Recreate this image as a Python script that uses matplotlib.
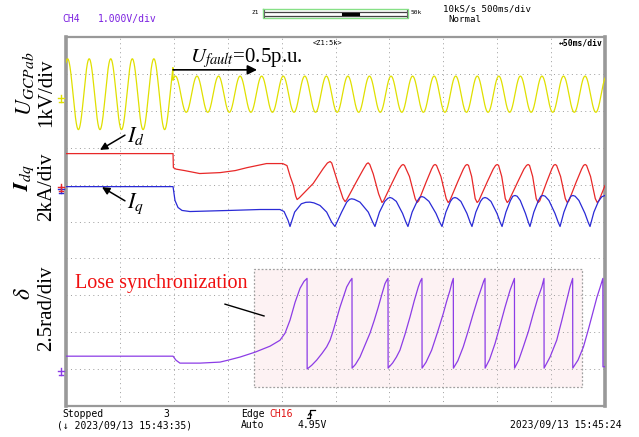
import numpy as np
import matplotlib
matplotlib.use("Agg")
import matplotlib.pyplot as plt
import matplotlib.lines as mlines
from matplotlib.patches import Rectangle

plt.rcParams['mathtext.fontset'] = 'stix'
plt.rcParams['font.family'] = ['Liberation Serif', 'DejaVu Serif']

# ---- acquisition: 10 div x 50 ms/div, 10 kS/s ----
t_span_ms = 500
sample_ms = 0.1
fault_ms = 99.3

# ---- grid voltage U_GCPab (kV), 50 Hz ----
v_freq_hz = 50
v_peak_time_ms = 1.5
v_amp_pre_kV = 0.96
v_amp_post_kV = 0.49
v_dc_kV = 0.10

# ---- d-axis current I_d (kA) ----
id_t = [0, 99.3, 99.6, 102, 110, 124, 143, 157, 168, 186, 201, 205, 208, 211, 213, 214.4,
        216.5, 229.3, 238.6, 242.5, 245.0, 246.5, 252.4, 257, 258.9,
        260.5, 270, 276, 278.8, 280.3, 281.8, 285, 290, 293.1,
        294.6, 302.9, 308.8, 311.2, 312.7, 314.0, 318.6, 323.9, 325.7,
        327.2, 334.1, 339.1, 340.9, 342.4, 343.7, 347.8, 352.7, 354.5,
        356.0, 363.3, 368.6, 370.6, 372.1, 373.4, 376.3, 379.6, 381.4,
        382.9, 390.7, 396.3, 398.5, 400.0, 401.3, 404.2, 407.5, 409.3,
        410.8, 419.0, 424.8, 427.2, 428.7, 430.0, 432.9, 436.2, 438.0,
        439.5, 445.9, 450.6, 452.3, 453.8, 455.1, 458.8, 463.2, 465.0,
        466.5, 473.3, 478.3, 480.1, 481.6, 482.9, 486.6, 491.0, 492.8,
        494.3, 500]
id_kA = [1.84, 1.84, 1.08, 1.00, 0.92, 0.76, 0.81, 0.92, 1.08, 1.30, 1.30, 1.19, 0.60, 0.11, -0.45, -0.65,
         -0.55, 0.22, 1.03, 1.33, 1.41, 1.33, 0.22, -0.59, -0.76,
         -0.65, 0.38, 1.01, 1.28, 1.34, 1.25, 0.74, -0.34, -0.81,
         -0.72, 0.30, 1.00, 1.20, 1.25, 1.20, 0.60, -0.60, -0.81,
         -0.72, 0.30, 1.00, 1.20, 1.25, 1.20, 0.60, -0.60, -0.81,
         -0.72, 0.30, 1.00, 1.20, 1.25, 1.20, 0.60, -0.60, -0.81,
         -0.72, 0.30, 1.00, 1.20, 1.25, 1.20, 0.60, -0.60, -0.81,
         -0.72, 0.30, 1.00, 1.20, 1.25, 1.20, 0.60, -0.60, -0.81,
         -0.72, 0.30, 1.00, 1.20, 1.25, 1.20, 0.60, -0.60, -0.81,
         -0.72, 0.30, 1.00, 1.20, 1.25, 1.20, 0.60, -0.60, -0.81,
         -0.72, 0.11]

# ---- q-axis current I_q (kA) ----
iq_t = [0, 99.3, 101.1, 103.9, 107.6, 115, 152, 180, 198.5, 202.3, 206, 207.8,
        212.1, 218.3, 222.5, 226.3, 230.0, 235.6, 241.8, 246.4, 249.5,
        255.7, 260.4, 263.0, 265.0, 267.5, 272.7, 280.4, 284.5, 286.6,
        290.8, 295.7, 298.6, 300.6, 302.6, 306.4, 312.2, 315.5, 317.2,
        321.1, 325.7, 328.2, 330.2, 332.2, 336.7, 343.2, 346.9, 348.8,
        352.4, 356.6, 358.8, 360.8, 362.8, 366.3, 371.9, 375.0, 376.6,
        380.2, 384.5, 386.7, 388.7, 390.7, 394.2, 399.8, 402.9, 404.5,
        408.1, 412.3, 414.5, 416.5, 418.5, 421.4, 426.2, 429.0, 430.4,
        434.0, 438.3, 440.5, 442.5, 444.5, 448.0, 453.6, 456.7, 458.3,
        461.9, 466.1, 468.3, 470.3, 472.3, 475.8, 481.4, 484.5, 486.1,
        489.7, 493.9, 497.0, 500]
iq_kA = [0.05, 0.05, -0.70, -1.08, -1.24, -1.30, -1.24, -1.19, -1.19, -1.30, -1.78, -2.11,
         -1.33, -0.88, -0.80, -0.79, -0.83, -0.97, -1.33, -1.87, -2.11,
         -1.33, -0.79, -0.64, -0.61, -0.64, -0.79, -1.33, -1.87, -2.11,
         -1.33, -0.75, -0.58, -0.54, -0.58, -0.75, -1.40, -1.90, -2.11,
         -1.33, -0.75, -0.53, -0.49, -0.53, -0.75, -1.40, -1.90, -2.11,
         -1.33, -0.75, -0.58, -0.54, -0.58, -0.75, -1.40, -1.90, -2.11,
         -1.33, -0.75, -0.58, -0.54, -0.58, -0.75, -1.40, -1.90, -2.11,
         -1.33, -0.70, -0.47, -0.43, -0.47, -0.70, -1.40, -1.90, -2.11,
         -1.33, -0.70, -0.47, -0.43, -0.47, -0.70, -1.40, -1.90, -2.11,
         -1.33, -0.70, -0.47, -0.43, -0.47, -0.70, -1.40, -1.90, -2.11,
         -1.33, -0.75, -0.50, -0.43]

# ---- power angle delta (rad) ----
delta_t = [0, 99.3, 102, 105.7, 124.3, 142.9, 150.3, 161.4, 175.3, 189.3, 198.5, 203.2, 207.8, 212.5, 217.1, 220.8, 223.6,
           223.7, 228.0, 232.5, 237.5, 241.8, 245.0, 248.0, 254.2, 260.4, 263.5, 265.3,
           265.4, 268.5, 272.7, 277.0, 282.0, 286.0, 289.7, 293.0, 295.9, 297.5, 298.7,
           298.8, 303.0, 306.5, 309.8, 314.5, 319.1, 323.0, 326.8, 328.8, 330.2,
           330.3, 334.0, 339.2, 344.5, 350.0, 353.0, 356.2, 358.0, 359.3,
           359.4, 363.5, 368.5, 373.0, 377.8, 382.0, 385.6, 387.5, 388.7,
           388.8, 393.0, 398.0, 402.5, 407.3, 412.0, 414.8, 416.0,
           416.1, 420.0, 424.2, 429.0, 433.5, 437.5, 441.3, 443.4,
           443.5, 449.0, 455.2, 460.0, 464.5, 467.5, 470.0,
           470.1, 475.0, 480.0, 484.5, 489.3, 492.5, 495.5, 498.0,
           498.1, 500]
delta_rad = [1.01, 1.01, 0.74, 0.54, 0.54, 0.61, 0.74, 0.95, 1.28, 1.69, 2.09, 2.57, 3.45, 4.66, 5.61, 6.08, 6.28,
             0.14, 0.40, 0.74, 1.20, 1.64, 2.10, 2.77, 4.34, 5.70, 6.10, 6.28,
             0.20, 0.45, 0.95, 1.70, 2.57, 3.45, 4.34, 5.20, 5.92, 6.15, 6.28,
             0.20, 0.55, 0.95, 1.42, 2.50, 3.67, 4.75, 5.70, 6.10, 6.28,
             0.20, 0.60, 1.42, 2.60, 3.90, 4.70, 5.47, 6.00, 6.28,
             0.20, 0.70, 1.64, 2.70, 3.90, 4.90, 5.68, 6.10, 6.28,
             0.20, 0.80, 1.87, 3.05, 4.34, 5.50, 6.05, 6.28,
             0.20, 0.75, 1.64, 2.70, 3.90, 4.90, 5.68, 6.28,
             0.20, 0.95, 2.09, 3.45, 4.80, 5.70, 6.28,
             0.20, 0.75, 1.64, 2.80, 4.12, 5.00, 5.68, 6.28,
             0.29, 0.30]

# channel ground position (div) and sensitivity (unit/div)
V_POS, V_SCALE = 8.35, 1.0
I_POS, I_SCALE = 5.92, 2.0
D_POS, D_SCALE = 0.946, 2.5

C_V = '#e0e000'
C_ID = '#e82828'
C_IQ = '#2a2ad6'
C_D = '#8c3ce6'
C_GRID = '#9c9c9c'
C_FRAME = '#999999'
MONO = 'DejaVu Sans Mono'

W, H = 639, 437
fig = plt.figure(figsize=(W / 100, H / 100), dpi=100)
fig.patch.set_facecolor('white')


def fx(x):
    return x / W


def fy(y):
    return 1 - y / H


def fig_line(xs, ys, **kw):
    fig.add_artist(mlines.Line2D([fx(x) for x in xs], [fy(y) for y in ys],
                                 transform=fig.transFigure, **kw))


ax = fig.add_axes([fx(66), fy(406), (605 - 66) / W, (406 - 37) / H])
ax.set_xlim(0, t_span_ms)
ax.set_ylim(0, 10)
ax.set_xticks([])
ax.set_yticks([])
for side in ['left', 'right']:
    ax.spines[side].set_linewidth(2.6)
    ax.spines[side].set_color(C_FRAME)
for side in ['top', 'bottom']:
    ax.spines[side].set_linewidth(1.6)
    ax.spines[side].set_color(C_FRAME)

# dotted division grid
for k in range(1, 10):
    ax.axvline(k * 50, color=C_GRID, lw=0.7, ls=(0, (1, 3.6)), zorder=1.5)
    ax.axhline(k, color=C_GRID, lw=0.7, ls=(0, (1, 3.6)), zorder=1.5)

# highlighted loss-of-synchronism region
ax.add_patch(Rectangle((174.4, 0.51), 478.8 - 174.4, 3.70 - 0.51,
                       facecolor='#fdf2f3', edgecolor='#a0a0a0', lw=0.9,
                       ls=(0, (1.5, 1.5)), zorder=1))

# traces
t = np.arange(0, t_span_ms + sample_ms / 2, sample_ms)
amp = np.where(t < fault_ms, v_amp_pre_kV, v_amp_post_kV)
u = v_dc_kV + amp * np.cos(2 * np.pi * v_freq_hz * (t - v_peak_time_ms) / 1000)
ax.plot(t, V_POS + u / V_SCALE, color=C_V, lw=0.9, zorder=3)
ax.plot(id_t, I_POS + np.array(id_kA) / I_SCALE, color=C_ID, lw=0.9, zorder=3)
ax.plot(iq_t, I_POS + np.array(iq_kA) / I_SCALE, color=C_IQ, lw=0.9, zorder=3)
ax.plot(delta_t, D_POS + np.array(delta_rad) / D_SCALE, color=C_D, lw=0.9, zorder=3)


# ground markers on the left edge
def ground_marker(pos, color, dy=0):
    y = 406 - pos * 36.9 + dy
    fig_line([58, 64], [y, y], color=color, lw=1.0)
    fig_line([61, 61], [y - 3, y + 4], color=color, lw=1.0)
    fig_line([59, 63], [y + 4, y + 4], color=color, lw=1.0)


ground_marker(V_POS, C_V)
ground_marker(I_POS, C_IQ, 1)
ground_marker(I_POS, C_ID, -1)
ground_marker(D_POS, C_D)

# annotations
ax.annotate('', xy=(177.2, 9.11), xytext=(99.3, 9.11),
            arrowprops=dict(arrowstyle='-|>', color='black', lw=1.2,
                            mutation_scale=14, shrinkA=0, shrinkB=0), zorder=5)
ax.text(115, 9.32, r'$U_{fault}$=0.5p.u.', fontsize=15, color='black',
        va='baseline', ha='left', zorder=5)

ax.annotate('', xy=(31.5, 6.94), xytext=(54.7, 7.34),
            arrowprops=dict(arrowstyle='-|>', color='black', lw=1.1,
                            mutation_scale=11, shrinkA=0, shrinkB=0), zorder=5)
ax.text(57.0, 7.15, r'$I_d$', fontsize=16, va='baseline', ha='left', zorder=5)

ax.annotate('', xy=(33.4, 5.93), xytext=(54.7, 5.56),
            arrowprops=dict(arrowstyle='-|>', color='black', lw=1.1,
                            mutation_scale=11, shrinkA=0, shrinkB=0), zorder=5)
ax.text(57.0, 5.37, r'$I_q$', fontsize=16, va='baseline', ha='left', zorder=5)

ax.text(8.3, 3.20, 'Lose synchronization', fontsize=14.5, color='#f01010',
        va='baseline', ha='left', zorder=5)
ax.plot([147.5, 183.7], [2.76, 2.44], color='black', lw=1.0, zorder=5)

# channel labels (rotated)
fig.text(fx(25), fy(84), r'$U_{GCPab}$', rotation=90, fontsize=16,
         ha='center', va='center')
fig.text(fx(47), fy(93), '1kV/div', rotation=90, fontsize=15,
         ha='center', va='center')
fig.text(fx(24), fy(177), r'$\mathbfit{I}_{dq}$', rotation=90, fontsize=16,
         ha='center', va='center')
fig.text(fx(47), fy(187), '2kA/div', rotation=90, fontsize=15,
         ha='center', va='center')
fig.text(fx(25), fy(294), r'$\delta$', rotation=90, fontsize=17,
         ha='center', va='center')
fig.text(fx(47), fy(308), '2.5rad/div', rotation=90, fontsize=15,
         ha='center', va='center')

# scope header
fig.text(fx(62), fy(19), 'CH4', family=MONO, fontsize=7, color='#7a1fe0',
         va='center', ha='left')
fig.text(fx(98), fy(19), '1.000V/div', family=MONO, fontsize=7, color='#7a1fe0',
         va='center', ha='left')
fig.text(fx(443), fy(9), '10kS/s 500ms/div', family=MONO, fontsize=6.6,
         va='center', ha='left')
fig.text(fx(448), fy(19), 'Normal', family=MONO, fontsize=6.6,
         va='center', ha='left')

# zoom position bar
fig.text(fx(252), fy(12.5), 'Z1', family=MONO, fontsize=4.5, va='center', ha='left')
fig.text(fx(411), fy(13), '50k', family=MONO, fontsize=4.5, va='center', ha='left')
fig_line([263, 408, 408, 263, 263], [9, 9, 18, 18, 9], color='#86e086', lw=1.0)
fig_line([265, 406], [11.5, 11.5], color='#444444', lw=0.9)
fig_line([265, 406], [15.5, 15.5], color='#444444', lw=0.9)
fig_line([343, 358], [13.5, 13.5], color='black', lw=2.2)
fig_line([264, 264], [10, 17], color='#666666', lw=0.8)
fig_line([407, 407], [10, 17], color='#666666', lw=0.8)

# zoom window captions
fig.text(fx(313), fy(43), '<Z1:5k>', family=MONO, fontsize=5, va='center', ha='left')
fig.text(fx(559), fy(43), '\u219450ms/div', family=MONO, fontsize=5.8,
         va='center', ha='left', weight='bold')

# scope footer
fig.text(fx(62), fy(414), 'Stopped', family=MONO, fontsize=7, va='center', ha='left')
fig.text(fx(163), fy(414), '3', family=MONO, fontsize=7, va='center', ha='left')
fig.text(fx(57), fy(425), '(\u2193 2023/09/13 15:43:35)', family=MONO, fontsize=7,
         va='center', ha='left')
fig.text(fx(241), fy(414), 'Edge', family=MONO, fontsize=7, va='center', ha='left')
fig.text(fx(269), fy(414), 'CH16', family=MONO, fontsize=7, color='#e01010',
         va='center', ha='left')
fig.text(fx(241), fy(425), 'Auto', family=MONO, fontsize=7, va='center', ha='left')
fig.text(fx(298), fy(425), '4.95V', family=MONO, fontsize=7, va='center', ha='left')
fig.text(fx(510), fy(425), '2023/09/13 15:45:24', family=MONO, fontsize=7,
         va='center', ha='left')
# rising-edge trigger symbol
fig_line([307, 310, 310, 315], [418, 418, 410, 410], color='black', lw=0.9)
fig_line([308.5, 310, 311.5], [415, 413, 415], color='black', lw=0.9)

fig.savefig('out.png', dpi=100, facecolor='white')
